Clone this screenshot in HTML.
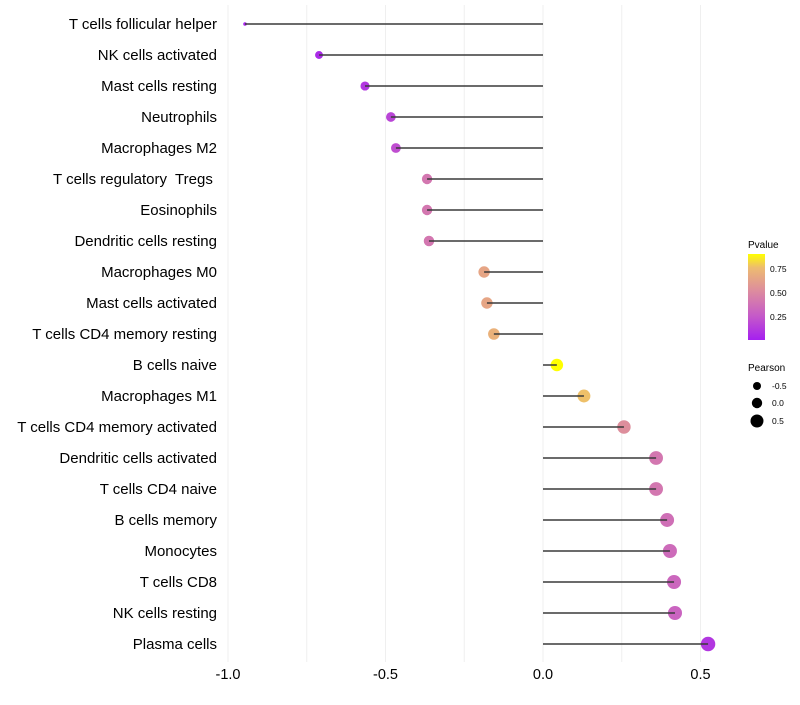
<!DOCTYPE html>
<html><head><meta charset="utf-8"><style>
body{margin:0;background:#fff;font-family:"Liberation Sans",sans-serif;}
svg text{font-family:"Liberation Sans",sans-serif;}
</style></head><body>
<svg id="chart" width="800" height="700" xmlns="http://www.w3.org/2000/svg">
<defs><linearGradient id="pg" x1="0" y1="1" x2="0" y2="0">
<stop offset="0" stop-color="#a51ff0"/><stop offset="0.28" stop-color="#c55ac8"/><stop offset="0.56" stop-color="#dc8aa0"/><stop offset="0.84" stop-color="#edbb70"/><stop offset="1" stop-color="#ffff00"/>
</linearGradient></defs>
<g id="grid"></g><g id="points"></g><g id="stems"></g><g id="labels"></g>
<g>
<text x="748" y="248" font-size="10" fill="#000">Pvalue</text>
<rect x="748" y="254" width="17" height="86" fill="url(#pg)"/>
<text x="770" y="272" font-size="8.5">0.75</text>
<text x="770" y="296" font-size="8.5">0.50</text>
<text x="770" y="320" font-size="8.5">0.25</text>
</g>
<g>
<text x="748" y="371" font-size="10">Pearson</text>
<circle cx="757" cy="386" r="4"/><text x="772" y="389" font-size="8.5">-0.5</text>
<circle cx="757" cy="403" r="5.2"/><text x="772" y="406" font-size="8.5">0.0</text>
<circle cx="757" cy="421" r="6.5"/><text x="772" y="424" font-size="8.5">0.5</text>
</g>
</svg>
<script>
const categories=["T cells follicular helper","NK cells activated","Mast cells resting","Neutrophils","Macrophages M2","T cells regulatory  Tregs ","Eosinophils","Dendritic cells resting","Macrophages M0","Mast cells activated","T cells CD4 memory resting","B cells naive","Macrophages M1","T cells CD4 memory activated","Dendritic cells activated","T cells CD4 naive","B cells memory","Monocytes","T cells CD8","NK cells resting","Plasma cells"];
const pearson=[-0.946,-0.711,-0.565,-0.483,-0.467,-0.368,-0.368,-0.362,-0.187,-0.178,-0.156,0.044,0.130,0.257,0.359,0.359,0.394,0.403,0.416,0.419,0.524];
const pvalue=[0.02,0.05,0.1,0.16,0.2,0.4,0.4,0.4,0.64,0.64,0.7,0.9,0.76,0.52,0.4,0.4,0.36,0.34,0.32,0.3,0.1];
const xTicks=[-1.0,-0.5,0.0,0.5];
const xTickLabels=["-1.0","-0.5","0.0","0.5"];
const NS="http://www.w3.org/2000/svg";
const xs=v=>543+v*315;
const ys=i=>24+i*31;
const minP=Math.min(...pearson);
const rs=v=>1.8+Math.sqrt(20*Math.max(0,v-minP));
const stops=[[0,[165,31,240]],[0.25,[197,90,200]],[0.5,[220,138,160]],[0.75,[237,187,112]],[0.9,[255,255,0]]];
function col(p){p=Math.max(0,Math.min(0.9,p));for(let k=0;k<stops.length-1;k++){const[a,c1]=stops[k],[b,c2]=stops[k+1];if(p<=b){const t=(p-a)/(b-a);return"rgb("+c1.map((c,j)=>Math.round(c+(c2[j]-c)*t)).join(",")+")";}}return"rgb(255,255,0)";}
function mk(t,at,parent){const e=document.createElementNS(NS,t);for(const k in at)e.setAttribute(k,at[k]);parent.appendChild(e);return e;}
const grid=document.getElementById("grid"),points=document.getElementById("points"),stems=document.getElementById("stems"),labels=document.getElementById("labels");
for(let v=-1.0;v<=0.5001;v+=0.25){const g=mk("line",{x1:xs(v),x2:xs(v),y1:5,y2:662,stroke:"#efefef","stroke-width":1},grid);

}
xTicks.forEach((v,i)=>{const t=mk("text",{x:xs(v),y:679,"font-size":14.5,"text-anchor":"middle",fill:"#000"},labels);t.textContent=xTickLabels[i];

});
categories.forEach((c,i)=>{const y=ys(i);
const ci=mk("circle",{cx:xs(pearson[i]),cy:y,r:rs(pearson[i]),fill:col(pvalue[i])},points);


const ln=mk("line",{x1:xs(0),x2:xs(pearson[i]),y1:y,y2:y,stroke:"#3a3a3a","stroke-width":1.5},stems);


const t=mk("text",{x:217,y:y+5,"font-size":15,"text-anchor":"end",fill:"#000"},labels);t.textContent=c;t.style.whiteSpace="pre";

});
</script>
</body></html>
